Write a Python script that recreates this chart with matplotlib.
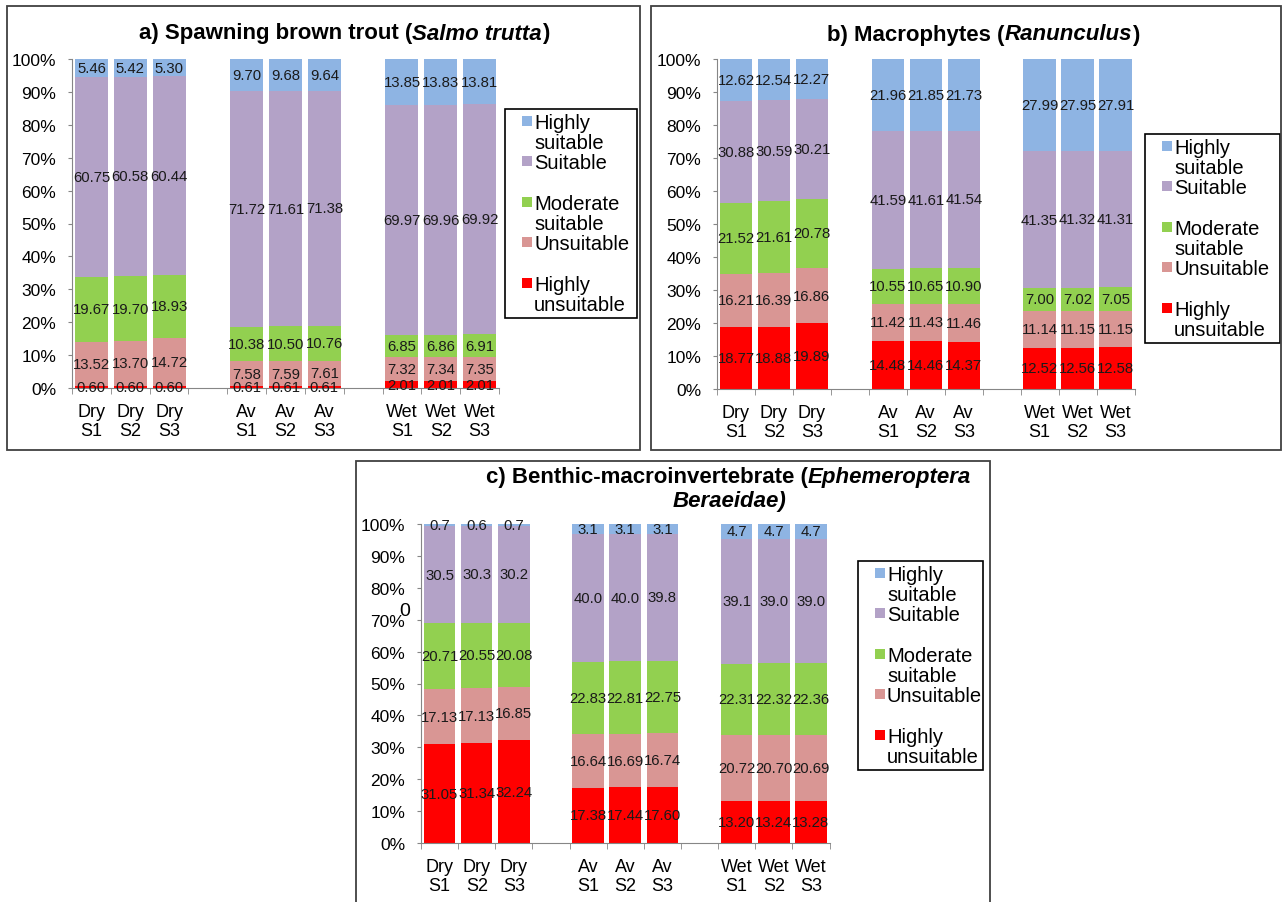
import matplotlib.pyplot as plt
import numpy as np
from matplotlib.lines import Line2D
from matplotlib.patches import Rectangle
from matplotlib.ticker import PercentFormatter

plt.rcParams["font.family"] = ["Liberation Sans", "DejaVu Sans"]

W, H = 1283, 903

# stacking order, bottom to top
CLASSES = ["Highly unsuitable", "Unsuitable", "Moderate suitable", "Suitable", "Highly suitable"]
COLORS = ["#ff0000", "#d99694", "#92d050", "#b3a2c7", "#8eb4e3"]
SCENARIOS = ["Dry\nS1", "Dry\nS2", "Dry\nS3", "Av\nS1", "Av\nS2", "Av\nS3", "Wet\nS1", "Wet\nS2", "Wet\nS3"]

# a) spawning brown trout
trout_hu = [0.60, 0.60, 0.60, 0.61, 0.61, 0.61, 2.01, 2.01, 2.01]
trout_u = [13.52, 13.70, 14.72, 7.58, 7.59, 7.61, 7.32, 7.34, 7.35]
trout_ms = [19.67, 19.70, 18.93, 10.38, 10.50, 10.76, 6.85, 6.86, 6.91]
trout_s = [60.75, 60.58, 60.44, 71.72, 71.61, 71.38, 69.97, 69.96, 69.92]
trout_hs = [5.46, 5.42, 5.30, 9.70, 9.68, 9.64, 13.85, 13.83, 13.81]

# b) macrophytes
macro_hu = [18.77, 18.88, 19.89, 14.48, 14.46, 14.37, 12.52, 12.56, 12.58]
macro_u = [16.21, 16.39, 16.86, 11.42, 11.43, 11.46, 11.14, 11.15, 11.15]
macro_ms = [21.52, 21.61, 20.78, 10.55, 10.65, 10.90, 7.00, 7.02, 7.05]
macro_s = [30.88, 30.59, 30.21, 41.59, 41.61, 41.54, 41.35, 41.32, 41.31]
macro_hs = [12.62, 12.54, 12.27, 21.96, 21.85, 21.73, 27.99, 27.95, 27.91]

# c) benthic macroinvertebrates
benth_hu = [31.05, 31.34, 32.24, 17.38, 17.44, 17.60, 13.20, 13.24, 13.28]
benth_u = [17.13, 17.13, 16.85, 16.64, 16.69, 16.74, 20.72, 20.70, 20.69]
benth_ms = [20.71, 20.55, 20.08, 22.83, 22.81, 22.75, 22.31, 22.32, 22.36]
benth_s = [30.5, 30.3, 30.2, 40.0, 40.0, 39.8, 39.1, 39.0, 39.0]
benth_hs = [0.7, 0.6, 0.7, 3.1, 3.1, 3.1, 4.7, 4.7, 4.7]

# legend rows top to bottom; trailing "\n" leaves the blank row Excel put there
LEGEND_LABELS = ["Highly\nsuitable", "Suitable\n", "Moderate\nsuitable", "Unsuitable\n", "Highly\nunsuitable"]

fig = plt.figure(figsize=(W / 100, H / 100), dpi=100)


def px_rect(l, t, r, b):
    return [l / W, 1 - b / H, (r - l) / W, (b - t) / H]


def panel(ax_box, series, decimals, leg_box):
    ax = fig.add_axes(px_rect(*ax_box))
    x = np.arange(9) + np.arange(9) // 3  # empty slot between flow regimes
    vals = np.array(series, dtype=float)
    share = vals / vals.sum(axis=0) * 100
    bottom = np.zeros(9)
    for k in range(5):
        bars = ax.bar(x, share[k], bottom=bottom, width=0.85, color=COLORS[k], lw=0)
        ax.bar_label(bars, labels=[f"{v:.{decimals[k]}f}" for v in vals[k]],
                     label_type="center", fontsize=10.7, color="#1a1a1a")
        bottom += share[k]

    ax.set_xlim(-0.5, 10.5)
    ax.set_ylim(0, 100)
    ax.set_yticks(np.arange(0, 101, 10))
    ax.yaxis.set_major_formatter(PercentFormatter(decimals=0))
    ax.set_xticks(x)
    ax.set_xticklabels(SCENARIOS)
    for lbl in ax.get_xticklabels():
        lbl.set_linespacing(1.1)
    ax.set_xticks(np.arange(-0.5, 11, 1), minor=True)
    ax.tick_params(axis="x", which="major", length=0, labelsize=13, pad=11)
    ax.tick_params(axis="x", which="minor", length=4, color="#868686")
    ax.tick_params(axis="y", length=3, color="#868686", labelsize=12.5, pad=8.5)
    ax.spines[["top", "right"]].set_visible(False)
    ax.spines[["left", "bottom"]].set_color("#868686")

    handles, labels = [], []
    for k, lab in zip(range(4, -1, -1), LEGEND_LABELS):
        first, rest = lab.split("\n")
        handles.append(Line2D([], [], marker="s", ls="none", ms=7.8, mew=0, color=COLORS[k]))
        labels.append(first)
        handles.append(Line2D([], [], ls="none"))
        labels.append(rest or " ")
    l, t, r, b = leg_box
    leg = ax.legend(handles, labels, loc="upper left", mode="expand",
                    bbox_to_anchor=(l / W, 1 - b / H, (r - l) / W, (b - t) / H),
                    bbox_transform=fig.transFigure, borderaxespad=0, fontsize=14.5,
                    labelspacing=0.06, borderpad=0.2, handlelength=1.74, handletextpad=-0.5,
                    fancybox=False, framealpha=1)
    leg.get_frame().set_edgecolor("black")
    leg.get_frame().set_linewidth(1.2)
    return ax


def title(ax, x_px, y_px, pieces, size=16):
    style, text = pieces[0]
    t = fig.text(x_px / W, 1 - y_px / H, text, fontsize=size, fontweight="bold",
                 fontstyle=style, ha="left", va="center")
    for style, text in pieces[1:]:
        t = ax.annotate(text, xy=(1, 0), xycoords=t, ha="left", va="bottom",
                        fontsize=size, fontweight="bold", fontstyle=style, annotation_clip=False)


# panel frames
for l, t, r, b in [(7, 7, 640, 451), (651, 7, 1281, 451), (356, 462, 990, 915)]:
    fig.add_artist(Rectangle((l / W, 1 - b / H), (r - l) / W, (b - t) / H, transform=fig.transFigure,
                             fill=False, edgecolor="#404040", lw=1.3))

ax_a = panel((72, 60, 499, 389), [trout_hu, trout_u, trout_ms, trout_s, trout_hs],
             [2, 2, 2, 2, 2], (505, 110, 637, 318))
title(ax_a, 139, 34, [("normal", "a) Spawning brown trout ("), ("italic", "Salmo trutta"), ("normal", ")")])

ax_b = panel((717, 60, 1134.5, 390), [macro_hu, macro_u, macro_ms, macro_s, macro_hs],
             [2, 2, 2, 2, 2], (1145, 135, 1280, 328))
title(ax_b, 827, 35, [("normal", "b) Macrophytes ("), ("italic", "Ranunculus"), ("normal", ")")])

ax_c = panel((421, 525, 829.5, 844), [benth_hu, benth_u, benth_ms, benth_s, benth_hs],
             [2, 2, 2, 1, 1], (858, 562, 983, 768))
title(ax_c, 486, 478, [("normal", "c) Benthic-macroinvertebrate ("), ("italic", "Ephemeroptera")])
title(ax_c, 673, 502, [("italic", "Beraeidae)")])

fig.text(405 / W, 1 - 612 / H, "0", fontsize=14, ha="center", va="center")

fig.savefig("out.png", dpi=100)
